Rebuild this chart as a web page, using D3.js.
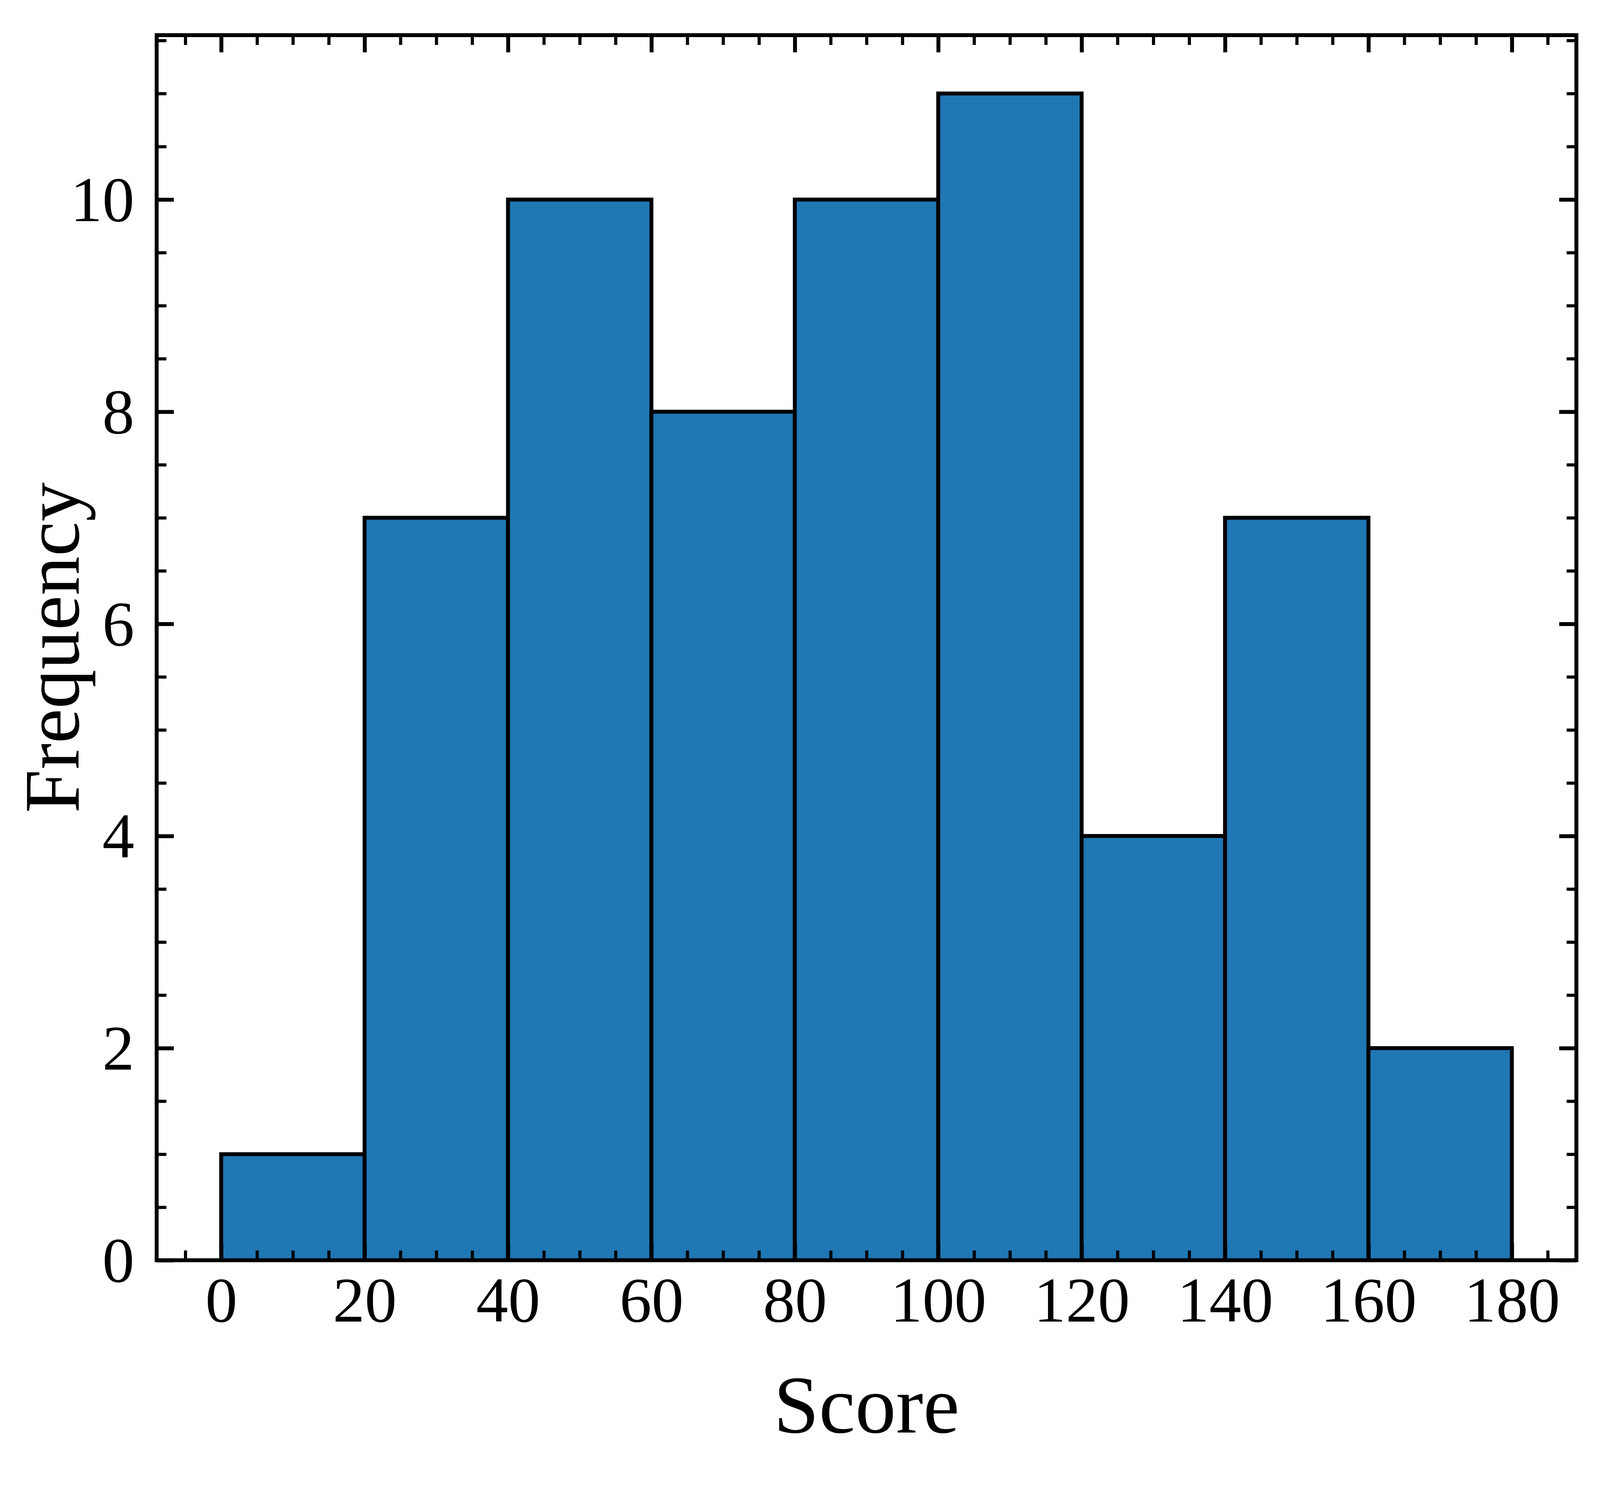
<!DOCTYPE html>
<html>
<head>
<meta charset="utf-8">
<script src="https://cdn.jsdelivr.net/npm/d3@7"></script>
<style>
  html, body { margin: 0; padding: 0; background: #fff; overflow: hidden; }
  #canvas svg { display: block; }
  text { font-family: "Liberation Serif", "DejaVu Serif", serif; fill: #000; }
</style>
</head>
<body>
<div id="canvas"></div>
<script>
// histogram bins (Score) and counts
const binEdges = [0, 20, 40, 60, 80, 100, 120, 140, 160, 180];
const counts = [1, 7, 10, 8, 10, 11, 4, 7, 2];
const xTicks = [0, 20, 40, 60, 80, 100, 120, 140, 160, 180];
const yTicks = [0, 2, 4, 6, 8, 10];

// the reference is 6098 x 3809; lay out against the real window size
const W = window.innerWidth || 6098, H = window.innerHeight || 3809;
const sx = W / 6098, sy = H / 3809;
const fs = Math.min(1, (sx + sy) / 2);   // text scale

const margin = { top: 90 * sy, right: 90 * sx, bottom: 583 * sy, left: 597 * sx },
    width = W - margin.left - margin.right,
    height = H - margin.top - margin.bottom;

const lw = 10;
const majorLen = 44, minorLen = 25;
const tickFont = 196 * fs, labelFont = 250 * fs, yLabelFont = 240 * fs;

const bins = counts.map((c, i) => ({ x0: binEdges[i], x1: binEdges[i + 1], n: c }));

const svg = d3.select("#canvas")
    .append("svg")
    .attr("width", W)
    .attr("height", H)
    .append("g")
    .attr("transform", `translate(${margin.left},${margin.top})`);

const x = d3.scaleLinear().domain([-9, 189]).range([0, width]);
const y = d3.scaleLinear().domain([0, 11.55]).range([height, 0]);

// bars
svg.append("g")
    .selectAll("rect")
    .data(bins)
    .join("rect")
    .attr("x", d => x(d.x0))
    .attr("y", d => y(d.n))
    .attr("width", d => x(d.x1) - x(d.x0))
    .attr("height", d => y(0) - y(d.n))
    .attr("fill", "#1f77b4")
    .attr("stroke", "#000")
    .attr("stroke-width", lw);

// minor tick values
const xMinor = d3.range(-5, 189, 5).filter(v => v % 20 !== 0);
const yMinor = d3.range(0.5, 11.55, 0.5).filter(v => v % 2 !== 0);

function styleAxis(g, w) {
    g.select(".domain").remove();
    g.selectAll("line").attr("stroke", "#000").attr("stroke-width", w);
}

// bottom
svg.append("g")
    .attr("transform", `translate(0,${height})`)
    .call(d3.axisBottom(x).tickValues(xTicks).tickSize(-majorLen).tickFormat(d3.format("d")))
    .call(g => styleAxis(g, lw))
    .call(g => g.selectAll("text")
        .attr("y", 47 + tickFont * 0.67).attr("dy", null)
        .attr("font-size", tickFont)
        .attr("font-family", "Liberation Serif"));
svg.append("g")
    .attr("transform", `translate(0,${height})`)
    .call(d3.axisBottom(x).tickValues(xMinor).tickSize(-minorLen).tickFormat(""))
    .call(g => styleAxis(g, 8));

// top
svg.append("g")
    .call(d3.axisTop(x).tickValues(xTicks).tickSize(-majorLen).tickFormat(""))
    .call(g => styleAxis(g, lw));
svg.append("g")
    .call(d3.axisTop(x).tickValues(xMinor).tickSize(-minorLen).tickFormat(""))
    .call(g => styleAxis(g, 8));

// left
svg.append("g")
    .call(d3.axisLeft(y).tickValues(yTicks).tickSize(-majorLen).tickFormat(d3.format("d")))
    .call(g => styleAxis(g, lw))
    .call(g => g.selectAll("text")
        .attr("x", -57).attr("dy", tickFont * 0.335)
        .attr("font-size", tickFont)
        .attr("font-family", "Liberation Serif"));
svg.append("g")
    .call(d3.axisLeft(y).tickValues(yMinor).tickSize(-minorLen).tickFormat(""))
    .call(g => styleAxis(g, 8));

// right
svg.append("g")
    .attr("transform", `translate(${width},0)`)
    .call(d3.axisRight(y).tickValues(yTicks).tickSize(-majorLen).tickFormat(""))
    .call(g => styleAxis(g, lw));
svg.append("g")
    .attr("transform", `translate(${width},0)`)
    .call(d3.axisRight(y).tickValues(yMinor).tickSize(-minorLen).tickFormat(""))
    .call(g => styleAxis(g, 8));

// frame
svg.append("rect")
    .attr("width", width)
    .attr("height", height)
    .attr("fill", "none")
    .attr("stroke", "#000")
    .attr("stroke-width", lw);

// axis labels
svg.append("text")
    .attr("x", width / 2)
    .attr("y", height + 441 * sy)
    .attr("text-anchor", "middle")
    .attr("font-size", labelFont)
    .text("Score");

svg.append("text")
    .attr("transform", `translate(${Math.max(260 * sx, yLabelFont * 0.92 + 16) - margin.left},${height / 2}) rotate(-90)`)
    .attr("text-anchor", "middle")
    .attr("font-size", yLabelFont)
    .text("Frequency");
</script>
</body>
</html>
